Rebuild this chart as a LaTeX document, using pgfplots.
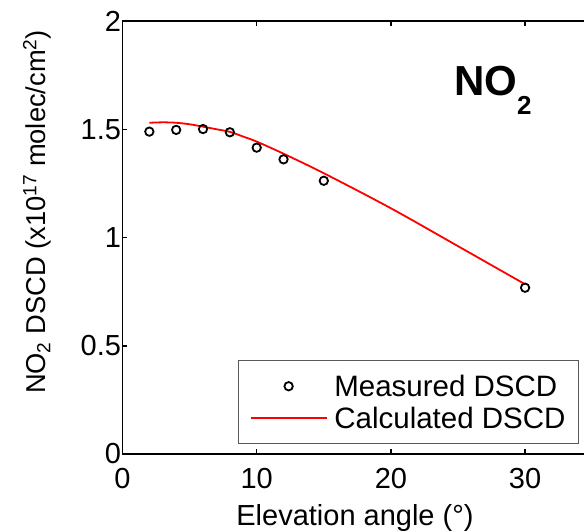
\documentclass[border=0pt]{standalone}
\usepackage{fontspec}
\setmainfont{Liberation Sans}
\usepackage{pgfplots}
\pgfplotsset{compat=1.18}

\pgfplotsset{
  measleg/.style={legend image code/.code={%
    \draw[mark repeat=2,mark phase=2,##1] plot coordinates {(0pt,0pt)(38pt,0pt)(76pt,0pt)};}},
  calcleg/.style={legend image code/.code={%
    \draw[##1,line width=1.5pt] (0pt,0pt) -- (76pt,0pt);}},
}

% measured NO2 DSCD (x1e17 molec/cm2)
\pgfplotstableread{
angle dscd
2  1.489
4  1.497
6  1.501
8  1.486
10 1.415
12 1.361
15 1.262
30 0.768
}\measured

% calculated DSCD
\pgfplotstableread{
angle dscd
2  1.530
3  1.532
4  1.530
5  1.523
6  1.512
7  1.500
8  1.488
9  1.466
10 1.443
12 1.387
15 1.297
20 1.135
25 0.960
30 0.784
}\calculated

\begin{document}
\begin{tikzpicture}
\begin{axis}[
  at={(0pt,0pt)}, anchor=south west,
  scale only axis, width=469.7pt, height=433pt,
  xmin=0, xmax=35, ymin=0, ymax=2,
  xtick={0,10,20,30}, ytick={0,0.5,1,1.5,2},
  tick align=inside, major tick length=5pt,
  axis line style={line width=1.5pt},
  every tick/.style={black, line width=1.5pt},
  /pgf/number format/assume math mode=true,
  tick label style={font=\fontsize{29}{33}\selectfont},
  xticklabel style={yshift=-11pt},
  yticklabel style={xshift=2pt},
  label style={font=\fontsize{29}{34}\selectfont},
  xlabel={Elevation angle (°)},
  xlabel style={at={(axis description cs:0.495,-0.164)}, anchor=base},
  ylabel={NO\textsubscript{2} DSCD (x10\textsuperscript{17} molec/cm\textsuperscript{2})},
  ylabel style={at={(axis description cs:-0.212,0.559)}, anchor=north, inner sep=0pt,
    font=\fontsize{27.3}{32}\selectfont},
  legend style={at={(0.972,0.023)}, anchor=south east, draw=black!65,
    line width=1pt, font=\fontsize{29.5}{34}\selectfont,
    inner xsep=11pt, inner ysep=12pt, row sep=5pt,
    /tikz/every odd column/.append style={column sep=5pt}},
  legend cell align=left,
]
\addplot[only marks, mark=o, mark size=4.2pt, mark options={line width=1.8pt, black}, measleg]
  table[x=angle,y=dscd] {\measured};
\addlegendentry{Measured DSCD}
\addplot[red, line width=1.8pt, smooth, no marks, calcleg]
  table[x=angle,y=dscd] {\calculated};
\addlegendentry{Calculated DSCD}
\node[anchor=base west, font=\fontsize{42}{46}\selectfont\bfseries]
  at (axis cs:24.45,1.654) {NO\raisebox{-19pt}{\fontsize{26}{28}\selectfont 2}};
\end{axis}
\pgfresetboundingbox
\useasboundingbox (-122.5pt,-77pt) rectangle (461.5pt,454pt);
\end{tikzpicture}
\end{document}
